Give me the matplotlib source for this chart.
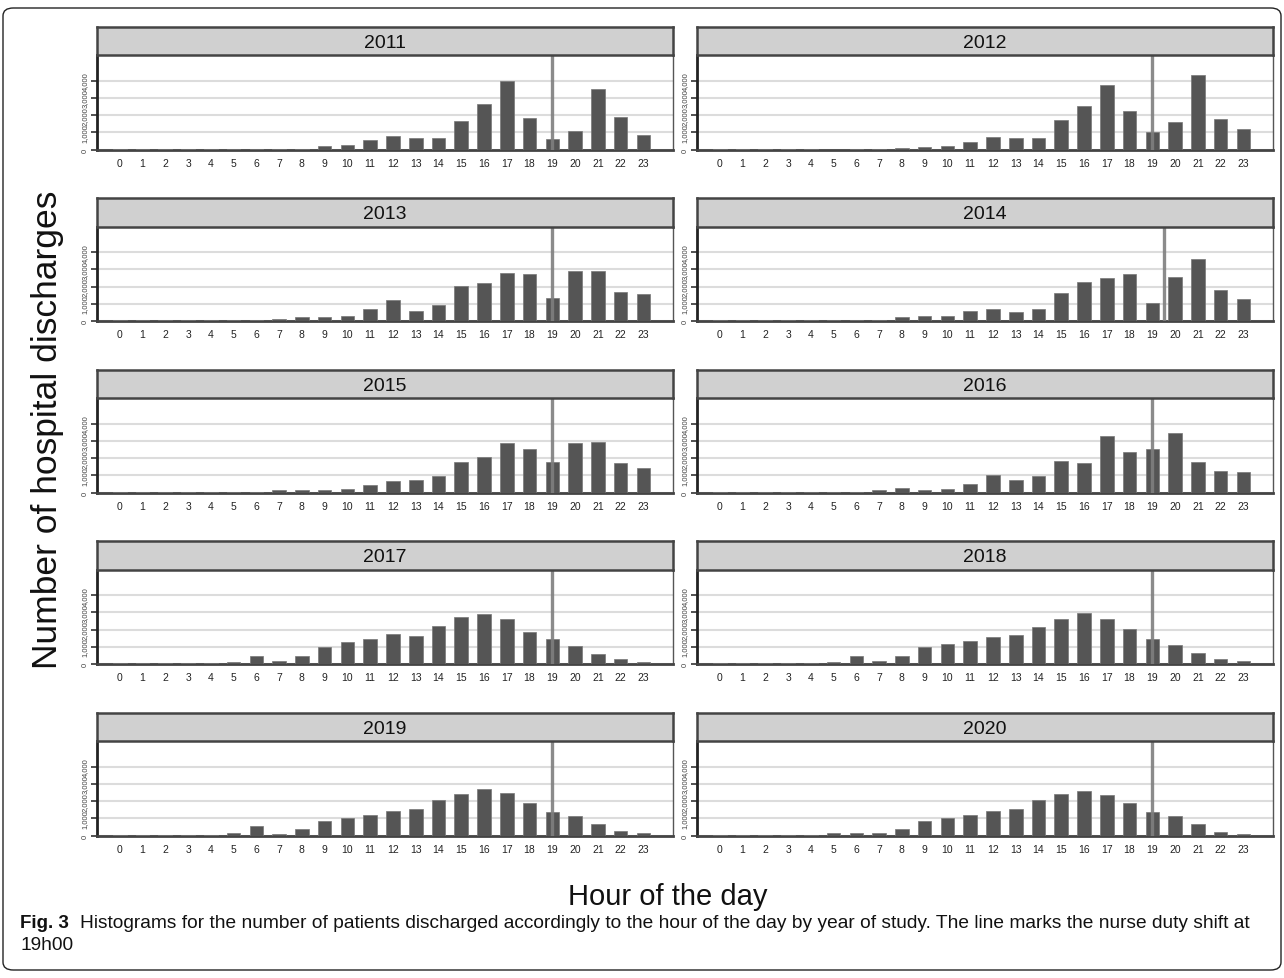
import numpy as np
import matplotlib.pyplot as plt
from matplotlib.patches import FancyBboxPatch

plt.rcParams['font.family'] = ['Liberation Sans', 'DejaVu Sans']

hours = list(range(24))
years = [2011, 2012, 2013, 2014, 2015, 2016, 2017, 2018, 2019, 2020]

d2011 = [40, 40, 40, 40, 40, 40, 40, 40, 40, 230, 290, 540, 780, 690, 690, 1670,
         2630, 4000, 1840, 610, 1100, 3510, 1920, 820]
d2012 = [30, 30, 30, 30, 30, 0, 20, 20, 60, 160, 180, 430, 750, 690, 690, 1710,
         2530, 3780, 2220, 1000, 1590, 4350, 1760, 1180]
d2013 = [30, 30, 30, 30, 30, 30, 30, 140, 210, 210, 310, 720, 1240, 600, 950, 2060,
         2190, 2820, 2760, 1320, 2930, 2910, 1710, 1550]
d2014 = [30, 30, 30, 30, 30, 30, 30, 80, 210, 290, 290, 600, 720, 520, 680, 1650,
         2270, 2520, 2760, 1070, 2580, 3610, 1790, 1300]
d2015 = [30, 30, 30, 30, 30, 30, 30, 155, 140, 140, 210, 410, 660, 720, 970, 1790,
         2080, 2870, 2560, 1770, 2870, 2930, 1690, 1400]
d2016 = [30, 30, 30, 50, 30, 30, 30, 155, 290, 155, 210, 490, 1030, 720, 970, 1830,
         1710, 3260, 2370, 2560, 3480, 1750, 1260, 1170]
d2017 = [30, 30, 30, 30, 30, 100, 490, 170, 490, 1010, 1260, 1460, 1730, 1650, 2230, 2740,
         2890, 2640, 1860, 1440, 1070, 600, 290, 140]
d2018 = [30, 30, 30, 30, 30, 100, 490, 170, 450, 1010, 1150, 1320, 1590, 1710, 2170, 2640,
         2990, 2640, 2040, 1460, 1130, 640, 290, 190]
d2019 = [30, 30, 30, 30, 30, 155, 540, 100, 370, 830, 1030, 1180, 1440, 1550, 2060, 2390,
         2700, 2470, 1880, 1360, 1130, 660, 270, 140]
d2020 = [30, 30, 30, 30, 30, 140, 140, 140, 370, 830, 1030, 1180, 1440, 1550, 2080, 2390,
         2580, 2350, 1880, 1360, 1130, 660, 210, 100]
counts = [d2011, d2012, d2013, d2014, d2015, d2016, d2017, d2018, d2019, d2020]
# hour where the nurse shift line was drawn in each panel
shift_x = [19, 19, 19, 19.5, 19, 19, 19, 19, 19, 19]

W, H = 1284, 979
fig = plt.figure(figsize=(W / 100, H / 100), dpi=100)

# outer frame
frame = FancyBboxPatch((3 / W, 8 / H), 1278 / W, 962 / H,
                       boxstyle='round,pad=0,rounding_size=0.008',
                       transform=fig.transFigure, fill=False, ec='#222222', lw=1.0)
fig.patches.append(frame)

col_x = [97, 697]
pw = 576
ph = 94.5
sh = 28.5
top0 = 56
pitch = 171.5

for i, yr in enumerate(years):
    r, c = divmod(i, 2)
    x0 = col_x[c]
    ytop = top0 + r * pitch
    ax = fig.add_axes([x0 / W, 1 - (ytop + ph) / H, pw / W, ph / H])
    sax = fig.add_axes([x0 / W, 1 - ytop / H, pw / W, sh / H])

    ax.bar(hours, counts[i], width=0.6, color='#555555', edgecolor='#777777',
           linewidth=0.5, zorder=3)
    ax.axvline(shift_x[i], color='#7f7f7f', lw=2.4, alpha=0.9, zorder=4)
    ax.set_xlim(-1.0, 24.3)
    ax.set_ylim(0, 5500)
    ax.set_yticks([0, 1000, 2000, 3000, 4000])
    ax.set_yticklabels(['0', '1,000', '2,000', '3,000', '4,000'], rotation=90,
                       fontsize=5.5, va='center', color='#444444')
    ax.set_xticks(hours)
    ax.set_xticklabels([str(h) for h in hours], fontsize=7.5, color='#222222')
    ax.tick_params(axis='x', length=0, pad=6)
    ax.tick_params(axis='y', length=4, width=1.2, pad=2, color='#333333')
    ax.yaxis.grid(True, color='#dcdcdc', lw=1.5, zorder=0)
    ax.set_axisbelow(True)
    ax.spines['left'].set_linewidth(2.0)
    ax.spines['left'].set_color('#222222')
    ax.spines['bottom'].set_linewidth(2.0)
    ax.spines['bottom'].set_color('#444444')
    ax.spines['right'].set_linewidth(1.0)
    ax.spines['right'].set_color('#555555')
    ax.spines['top'].set_visible(False)

    sax.set_facecolor('#d0d0d0')
    sax.set_xticks([])
    sax.set_yticks([])
    for s in sax.spines.values():
        s.set_linewidth(1.8)
        s.set_color('#444444')
    sax.text(0.5, 0.45, str(yr), transform=sax.transAxes, ha='center', va='center',
             fontsize=14, color='#111111')

fig.text(48 / W, 1 - 430 / H, 'Number of hospital discharges', rotation=90,
         ha='center', va='center', fontsize=25.5, color='#111111')
fig.text(668 / W, 1 - 897 / H, 'Hour of the day', ha='center', va='center',
         fontsize=21, color='#111111')

fig.text(20 / W, 1 - 923 / H, 'Fig. 3', ha='left', va='center', fontsize=13.5,
         fontweight='bold', color='#111111')
fig.text(80 / W, 1 - 923 / H,
         'Histograms for the number of patients discharged accordingly to the hour of the day '
         'by year of study. The line marks the nurse duty shift at',
         ha='left', va='center', fontsize=13.8, color='#111111')
fig.text(20 / W, 1 - 946 / H, '19h00', ha='left', va='center', fontsize=13.8,
         color='#111111')

plt.savefig('out.png', dpi=100)
plt.close()
